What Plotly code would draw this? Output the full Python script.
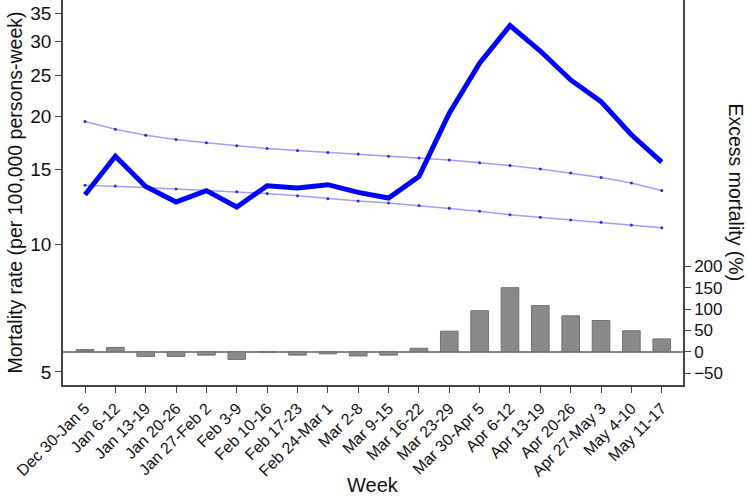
import plotly.graph_objects as go

weeks = [
    "Dec 30-Jan 5", "Jan 6-12", "Jan 13-19", "Jan 20-26", "Jan 27-Feb 2",
    "Feb 3-9", "Feb 10-16", "Feb 17-23", "Feb 24-Mar 1", "Mar 2-8",
    "Mar 9-15", "Mar 16-22", "Mar 23-29", "Mar 30-Apr 5", "Apr 6-12",
    "Apr 13-19", "Apr 20-26", "Apr 27-May 3", "May 4-10", "May 11-17",
]
mortality = [13.07, 16.1, 13.67, 12.57, 13.36, 12.23, 13.72, 13.55, 13.8, 13.24,
             12.84, 14.43, 20.34, 26.67, 32.7, 28.5, 24.36, 21.66, 18.09, 15.6]
upper = [19.44, 18.65, 18.05, 17.63, 17.32, 17.04, 16.8, 16.62, 16.44, 16.29,
         16.1, 15.96, 15.77, 15.54, 15.32, 15.02, 14.7, 14.35, 13.92, 13.38]
lower = [13.75, 13.7, 13.6, 13.48, 13.38, 13.29, 13.15, 12.99, 12.79, 12.64,
         12.5, 12.32, 12.14, 11.95, 11.73, 11.56, 11.4, 11.25, 11.09, 10.92]
excess = [5, 10, -11, -11, -8, -18, -1, -8, -5, -10,
          -8, 8, 48, 96, 150, 108, 84, 73, 49, 30]

left_ticks = [5, 10, 15, 20, 25, 30, 35]
right_ticks = [-50, 0, 50, 100, 150, 200]

FONT = "Liberation Sans, Arial, sans-serif"
AXIS = "#444444"

fig = go.Figure()

for band in (upper, lower):
    fig.add_trace(go.Scatter(
        x=weeks, y=band, mode="lines+markers",
        line=dict(color="#9f9fff", width=1.5),
        marker=dict(color="#2b2bd9", size=3),
        showlegend=False, hoverinfo="skip",
    ))

fig.add_trace(go.Scatter(
    x=weeks, y=mortality, mode="lines",
    line=dict(color="#0000ff", width=5),
    showlegend=False,
))

fig.add_trace(go.Bar(
    x=weeks, y=excess, yaxis="y2", width=0.58,
    marker=dict(color="#8a8a8a", line=dict(color="#6e6e6e", width=1)),
    showlegend=False,
))

fig.update_layout(
    width=747, height=496,
    margin=dict(l=63, r=64, t=0, b=111),
    paper_bgcolor="white", plot_bgcolor="white",
    font=dict(family=FONT, color="#111111"),
    xaxis=dict(
        range=[-0.725, 19.7], tickangle=-45, ticks="outside", ticklen=6,
        tickcolor=AXIS, showline=True, linecolor=AXIS, linewidth=1.5,
        showgrid=False, tickfont=dict(size=16), automargin=False,
    ),
    yaxis=dict(
        type="log", range=[0.668, 1.575], tickvals=left_ticks,
        ticktext=[str(v) for v in left_ticks],
        ticks="outside", ticklen=6, tickcolor=AXIS, showline=True,
        linecolor=AXIS, linewidth=1.5, showgrid=False, zeroline=False,
        tickfont=dict(size=19), automargin=False,
    ),
    yaxis2=dict(
        overlaying="y", side="right", range=[-78, 824], tickvals=right_ticks,
        ticks="outside", ticklen=6, tickcolor=AXIS, showline=True,
        linecolor=AXIS, linewidth=1.5, showgrid=False,
        zeroline=True, zerolinecolor="#888888", zerolinewidth=1.5,
        tickfont=dict(size=17), automargin=False,
    ),
    annotations=[
        dict(text="Excess mortality (%)", textangle=90, showarrow=False,
             xref="paper", yref="paper", x=1.0, xshift=53, y=0.5,
             font=dict(size=19.5), xanchor="center", yanchor="middle"),
        dict(text="Mortality rate (per 100,000 persons-week)", textangle=-90,
             showarrow=False, xref="paper", yref="paper", x=0.0, xshift=-49,
             y=0.5, font=dict(size=19.5), xanchor="center", yanchor="middle"),
        dict(text="Week", showarrow=False, xref="paper", yref="paper",
             x=0.5, y=0.0, yshift=-100, font=dict(size=20),
             xanchor="center", yanchor="middle"),
    ],
)

# page body has a default 8px margin; drop it so the figure sits at the corner
fig.write_html("out.html", config={"displayModeBar": False},
               post_script="document.body.style.margin='0';")
